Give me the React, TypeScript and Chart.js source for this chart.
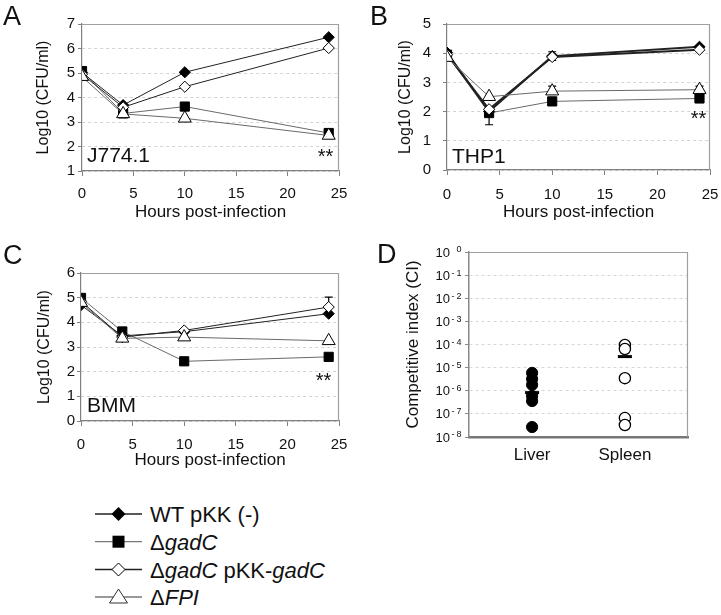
import React, { useEffect, useRef } from "react";
import { Chart, registerables } from "chart.js";

Chart.register(...registerables);

const FONT = "'Liberation Sans', Arial, Helvetica, sans-serif";

// ---------- data ----------
const hours = [0, 4, 10, 24];
const xTickValues = [0, 5, 10, 15, 20, 25];

const j774WT = [5.02, 3.69, 5.03, 6.46];
const j774GadC = [5.08, 3.35, 3.63, 2.55];
const j774Comp = [4.95, 3.6, 4.44, 6.02];
const j774FPI = [4.85, 3.33, 3.15, 2.45];

const thp1WT = [4.02, 2.0, 3.9, 4.22];
const thp1GadC = [3.95, 1.95, 2.35, 2.45];
const thp1Comp = [3.95, 2.08, 3.87, 4.12];
const thp1FPI = [3.85, 2.51, 2.7, 2.75];

const bmmWT = [4.7, 3.45, 3.62, 4.35];
const bmmGadC = [4.99, 3.63, 2.42, 2.6];
const bmmComp = [4.85, 3.4, 3.67, 4.62];
const bmmFPI = [4.8, 3.35, 3.4, 3.25];

// error bars (upper / lower extent)
const thp1WTErrUp = [0, 0, 0.15, 0];
const thp1WTErrDown = [0, 0, 0.15, 0];
const thp1GadCErrDown = [0, 0.4, 0, 0];
const thp1FPIErrUp = [0, 0, 0.17, 0.12];
const bmmCompErrUp = [0, 0, 0, 0.4];

const organs = ["Liver", "Spleen"];
const liverCI = [5.9e-6, 3.2e-6, 1.8e-6, 5.9e-7, 3.6e-7, 2.7e-8];
const spleenCI = [9.5e-5, 6.4e-5, 3.5e-6, 6.6e-8, 3.3e-8];
const liverMean = 8.3e-7;
const spleenMean = 3.0e-5;
const ciExponents = [0, -1, -2, -3, -4, -5, -6, -7, -8];

const seriesNames = ["WT pKK (-)", "ΔgadC", "ΔgadC pKK-gadC", "ΔFPI"];
const legendParts: [string, boolean][][] = [
  [["WT pKK (-)", false]],
  [["Δ", false], ["gadC", true]],
  [["Δ", false], ["gadC", true], [" pKK-", false], ["gadC", true]],
  [["Δ", false], ["FPI", true]],
];

// ---------- styles ----------
const seriesStyles = [
  { pointStyle: "rectRot", radius: 5.6, bg: "#000", line: "#222", order: 2 },
  { pointStyle: "rect", radius: 6.5, bg: "#000", line: "#6a6a6a", order: 3 },
  { pointStyle: "rectRot", radius: 5.6, bg: "#fff", line: "#222", order: 1 },
  { pointStyle: "triangle", radius: 7.5, bg: "#fff", line: "#6a6a6a", order: 0 },
];

const boxPlugin = {
  id: "box",
  beforeDatasetsDraw(chart: any) {
    const { ctx, chartArea: a } = chart;
    ctx.save();
    ctx.strokeStyle = "#a0a0a0";
    ctx.lineWidth = 1.2;
    ctx.beginPath();
    ctx.moveTo(a.left, a.top + 0.5);
    ctx.lineTo(a.right - 0.5, a.top + 0.5);
    ctx.lineTo(a.right - 0.5, a.bottom);
    ctx.stroke();
    ctx.restore();
  },
};

const errorBarPlugin = {
  id: "errorBars",
  beforeDatasetsDraw(chart: any) {
    const { ctx } = chart;
    const xs = chart.scales.x;
    const ys = chart.scales.y;
    chart.data.datasets.forEach((ds: any) => {
      const up = ds.errUp;
      const down = ds.errDown;
      if (!up && !down) return;
      ds.data.forEach((pt: any, i: number) => {
        const u = up ? up[i] : 0;
        const d = down ? down[i] : 0;
        if (!u && !d) return;
        const px = xs.getPixelForValue(pt.x);
        const p0 = ys.getPixelForValue(pt.y + u);
        const p1 = ys.getPixelForValue(pt.y - d);
        ctx.save();
        ctx.strokeStyle = "#000";
        ctx.lineWidth = 1.2;
        ctx.beginPath();
        ctx.moveTo(px, p0);
        ctx.lineTo(px, p1);
        if (u) {
          ctx.moveTo(px - 4, p0);
          ctx.lineTo(px + 4, p0);
        }
        if (d) {
          ctx.moveTo(px - 4, p1);
          ctx.lineTo(px + 4, p1);
        }
        ctx.stroke();
        ctx.restore();
      });
    });
  },
};

type TextItem = { text: string; x: number; y: number; font: string; align?: CanvasTextAlign };

function textPlugin(items: TextItem[]) {
  return {
    id: "texts",
    afterDraw(chart: any) {
      const ctx = chart.ctx;
      items.forEach((it) => {
        ctx.save();
        ctx.font = it.font;
        ctx.fillStyle = "#111";
        ctx.textAlign = it.align || "left";
        ctx.textBaseline = "alphabetic";
        ctx.fillText(it.text, it.x, it.y);
        ctx.restore();
      });
    },
  };
}

type LinePanelProps = {
  x: number;
  y: number;
  w: number;
  h: number;
  area: { l: number; t: number; r: number; b: number };
  yMin: number;
  yMax: number;
  series: number[][];
  errUp?: (number[] | undefined)[];
  errDown?: (number[] | undefined)[];
  lineWidths: number[];
  yTickPad: number;
  yTitleCenter: number;
  xLabelPad: number;
  xTitlePadBottom: number;
  texts: TextItem[];
};

function LinePanel(p: LinePanelProps) {
  const ref = useRef<HTMLCanvasElement>(null);
  useEffect(() => {
    const yTicks: number[] = [];
    for (let v = p.yMin; v <= p.yMax; v++) yTicks.push(v);
    const datasets = p.series.map((vals, si) => {
      const st = seriesStyles[si];
      return {
        label: seriesNames[si],
        data: vals.map((v, i) => ({ x: hours[i], y: v })),
        borderColor: st.line,
        borderWidth: p.lineWidths[si],
        pointStyle: st.pointStyle,
        pointRadius: st.radius,
        pointBackgroundColor: st.bg,
        pointBorderColor: "#000",
        pointBorderWidth: 1,
        tension: 0,
        fill: false,
        order: st.order,
        errUp: p.errUp ? p.errUp[si] : undefined,
        errDown: p.errDown ? p.errDown[si] : undefined,
      } as any;
    });
    const chart = new Chart(ref.current as HTMLCanvasElement, {
      type: "line",
      data: { datasets },
      options: {
        animation: false,
        responsive: false,
        layout: { padding: { left: 0, top: p.area.t, right: p.w - p.area.r, bottom: 0 } },
        plugins: { legend: { display: false }, tooltip: { enabled: false } },
        scales: {
          x: {
            type: "linear",
            min: 0,
            max: 25,
            afterBuildTicks: (s: any) => {
              s.ticks = xTickValues.map((v) => ({ value: v }));
            },
            afterFit: (s: any) => {
              s.height = p.h - p.area.b;
              s.paddingLeft = 0;
              s.paddingRight = 0;
            },
            ticks: {
              font: { family: FONT, size: 15 },
              color: "#111",
              padding: p.xLabelPad,
              maxRotation: 0,
              autoSkip: false,
            },
            grid: { drawOnChartArea: false, drawTicks: true, tickLength: 5, tickColor: "#808080", tickWidth: 1 },
            border: { color: "#808080", width: 1.2 },
            title: {
              display: true,
              text: "Hours post-infection",
              font: { family: FONT, size: 17 },
              color: "#111",
              padding: { top: 0, bottom: p.xTitlePadBottom },
            },
          },
          y: {
            type: "linear",
            min: p.yMin,
            max: p.yMax,
            afterBuildTicks: (s: any) => {
              s.ticks = yTicks.map((v) => ({ value: v }));
            },
            afterFit: (s: any) => {
              s.width = p.area.l;
              s.paddingTop = 0;
              s.paddingBottom = 0;
            },
            ticks: { font: { family: FONT, size: 15 }, color: "#111", padding: p.yTickPad },
            grid: {
              color: "#d2d2d2",
              lineWidth: 1,
              tickLength: 4,
              tickColor: "#808080",
              tickWidth: 1,
              tickBorderDash: [],
            } as any,
            border: { color: "#808080", width: 1.2, dash: [3, 3] },
            title: {
              display: true,
              text: "Log10 (CFU/ml)",
              font: { family: FONT, size: 16 },
              color: "#111",
              padding: { top: p.yTitleCenter - 9.6, bottom: 0 },
            },
          },
        },
      },
      plugins: [boxPlugin, errorBarPlugin, textPlugin(p.texts)],
    } as any);
    return () => chart.destroy();
  }, []);
  return (
    <canvas
      ref={ref}
      width={p.w}
      height={p.h}
      style={{ position: "absolute", left: p.x, top: p.y, width: p.w, height: p.h }}
    />
  );
}

function CIPanel() {
  const ref = useRef<HTMLCanvasElement>(null);
  const W = 361;
  const H = 250;
  const area = { l: 109, t: 20, r: 328, b: 205 };
  useEffect(() => {
    const ciLabels = {
      id: "ciLabels",
      afterDraw(chart: any) {
        const { ctx } = chart;
        const ys = chart.scales.y;
        ciExponents.forEach((e) => {
          const py = ys.getPixelForValue(Math.pow(10, e));
          ctx.save();
          ctx.fillStyle = "#111";
          ctx.textBaseline = "middle";
          ctx.textAlign = "right";
          ctx.font = `13px ${FONT}`;
          ctx.fillText("10", 90, py + 1);
          ctx.textAlign = "left";
          ctx.font = `9px ${FONT}`;
          if (e !== 0) ctx.fillText("-", 91.5, py - 2);
          ctx.fillText(String(Math.abs(e)), 96.5, py - 2);
          ctx.restore();
        });
      },
    };
    const chart = new Chart(ref.current as HTMLCanvasElement, {
      type: "scatter",
      data: {
        datasets: [
          {
            label: organs[0],
            data: liverCI.map((v) => ({ x: 0, y: v })),
            pointStyle: "circle",
            pointRadius: 5.6,
            pointBackgroundColor: "#000",
            pointBorderColor: "#000",
            pointBorderWidth: 1,
            order: 1,
          },
          {
            label: organs[1],
            data: spleenCI.map((v) => ({ x: 1, y: v })),
            pointStyle: "circle",
            pointRadius: 5.6,
            pointBackgroundColor: "#fff",
            pointBorderColor: "#000",
            pointBorderWidth: 1.3,
            order: 1,
          },
          {
            label: "Mean",
            data: [
              { x: 0, y: liverMean },
              { x: 1, y: spleenMean },
            ],
            pointStyle: "line",
            pointRadius: 7,
            pointBorderColor: "#000",
            pointBorderWidth: 3,
            order: 0,
          },
        ],
      },
      options: {
        animation: false,
        responsive: false,
        layout: { padding: { left: 0, top: area.t, right: W - area.r, bottom: 0 } },
        plugins: { legend: { display: false }, tooltip: { enabled: false } },
        scales: {
          x: {
            type: "linear",
            min: -0.68,
            max: 1.68,
            afterBuildTicks: (s: any) => {
              s.ticks = organs.map((_, i) => ({ value: i }));
            },
            afterFit: (s: any) => {
              s.height = H - area.b;
              s.paddingLeft = 0;
              s.paddingRight = 0;
            },
            ticks: {
              callback: (_v: any, i: number) => organs[i],
              font: { family: FONT, size: 17 },
              color: "#111",
              padding: 7.8,
              autoSkip: false,
              maxRotation: 0,
            },
            grid: { display: true, drawOnChartArea: false, drawTicks: false },
            border: { color: "#777", width: 2.5 },
          },
          y: {
            type: "logarithmic",
            min: 1e-8,
            max: 1,
            afterBuildTicks: (s: any) => {
              s.ticks = ciExponents.map((e) => ({ value: Math.pow(10, e) }));
            },
            afterFit: (s: any) => {
              s.width = area.l;
              s.paddingTop = 0;
              s.paddingBottom = 0;
            },
            ticks: { display: false },
            grid: { color: "#d6d6d6", lineWidth: 1, tickLength: 4, tickColor: "#888", tickWidth: 1, tickBorderDash: [] } as any,
            border: { color: "#888", width: 1.5, dash: [3, 3] },
            title: {
              display: true,
              text: "Competitive index (CI)",
              font: { family: FONT, size: 17 },
              color: "#111",
              padding: { top: 53 - 10.2, bottom: 0 },
            },
          },
        },
      },
      plugins: [
        boxPlugin,
        ciLabels,
        textPlugin([{ text: "D", x: 17, y: 31, font: `27px ${FONT}` }]),
      ],
    } as any);
    return () => chart.destroy();
  }, []);
  return (
    <canvas
      ref={ref}
      width={W}
      height={H}
      style={{ position: "absolute", left: 360, top: 232, width: W, height: H }}
    />
  );
}

function Legend() {
  const rowsY = [24, 51.7, 79.5, 107];
  const lineColors = ["#222", "#777", "#222", "#777"];
  const mx = 38.5;
  const marker = (i: number, cy: number) => {
    if (i === 0)
      return <polygon points={`${mx},${cy - 7} ${mx + 7},${cy} ${mx},${cy + 7} ${mx - 7},${cy}`} fill="#000" />;
    if (i === 1) return <rect x={mx - 6} y={cy - 6} width={12} height={12} fill="#000" />;
    if (i === 2)
      return (
        <polygon
          points={`${mx},${cy - 6.5} ${mx + 6.5},${cy} ${mx},${cy + 6.5} ${mx - 6.5},${cy}`}
          fill="#fff"
          stroke="#000"
          strokeWidth={1}
        />
      );
    return (
      <polygon
        points={`${mx},${cy - 8} ${mx + 9},${cy + 6} ${mx - 9},${cy + 6}`}
        fill="#fff"
        stroke="#333"
        strokeWidth={1}
      />
    );
  };
  return (
    <svg
      width={260}
      height={125}
      style={{ position: "absolute", left: 80, top: 490, overflow: "visible" }}
    >
      {legendParts.map((parts, i) => {
        const cy = rowsY[i];
        return (
          <g key={i}>
            <line x1={15} y1={cy} x2={62} y2={cy} stroke={lineColors[i]} strokeWidth={1.3} />
            {marker(i, cy)}
            <text x={70} y={cy + 8} fontFamily={FONT} fontSize={22} fill="#111">
              {parts.map(([t, it], k) => (
                <tspan key={k} fontStyle={it ? "italic" : "normal"}>
                  {t}
                </tspan>
              ))}
            </text>
          </g>
        );
      })}
    </svg>
  );
}

export default function App() {
  const letterFont = `27px ${FONT}`;
  const cellFont = `21px ${FONT}`;
  const starFont = `20px ${FONT}`;
  return (
    <div style={{ position: "absolute", left: 0, top: 0, width: 721, height: 615, background: "#fff" }}>
      <LinePanel
        x={0}
        y={0}
        w={360}
        h={232}
        area={{ l: 82, t: 24, r: 339, b: 171 }}
        yMin={1}
        yMax={7}
        series={[j774WT, j774GadC, j774Comp, j774FPI]}
        lineWidths={[1, 1, 1, 1]}
        yTickPad={3}
        yTitleCenter={43.5}
        xLabelPad={9}
        xTitlePadBottom={9.8}
        texts={[
          { text: "A", x: 3, y: 25, font: letterFont },
          { text: "J774.1", x: 87, y: 162, font: cellFont },
          { text: "**", x: 325.5, y: 163, font: starFont, align: "center" },
        ]}
      />
      <LinePanel
        x={360}
        y={0}
        w={361}
        h={232}
        area={{ l: 87, t: 24, r: 350, b: 170 }}
        yMin={0}
        yMax={5}
        series={[thp1WT, thp1GadC, thp1Comp, thp1FPI]}
        errUp={[thp1WTErrUp, undefined, undefined, thp1FPIErrUp]}
        errDown={[thp1WTErrDown, thp1GadCErrDown, undefined, undefined]}
        lineWidths={[2, 1, 2, 1]}
        yTickPad={12}
        yTitleCenter={46}
        xLabelPad={11}
        xTitlePadBottom={9.8}
        texts={[
          { text: "B", x: 10, y: 25, font: letterFont },
          { text: "THP1", x: 92, y: 163, font: cellFont },
          { text: "**", x: 338.5, y: 125, font: starFont, align: "center" },
        ]}
      />
      <LinePanel
        x={0}
        y={232}
        w={360}
        h={250}
        area={{ l: 81, t: 41, r: 339, b: 189 }}
        yMin={0}
        yMax={6}
        series={[bmmWT, bmmGadC, bmmComp, bmmFPI]}
        errUp={[undefined, undefined, bmmCompErrUp, undefined]}
        lineWidths={[1, 1, 1, 1]}
        yTickPad={2}
        yTitleCenter={45}
        xLabelPad={10}
        xTitlePadBottom={11.8}
        texts={[
          { text: "C", x: 3, y: 32, font: letterFont },
          { text: "BMM", x: 87, y: 180, font: cellFont },
          { text: "**", x: 323.5, y: 155, font: starFont, align: "center" },
        ]}
      />
      <CIPanel />
      <Legend />
    </div>
  );
}
